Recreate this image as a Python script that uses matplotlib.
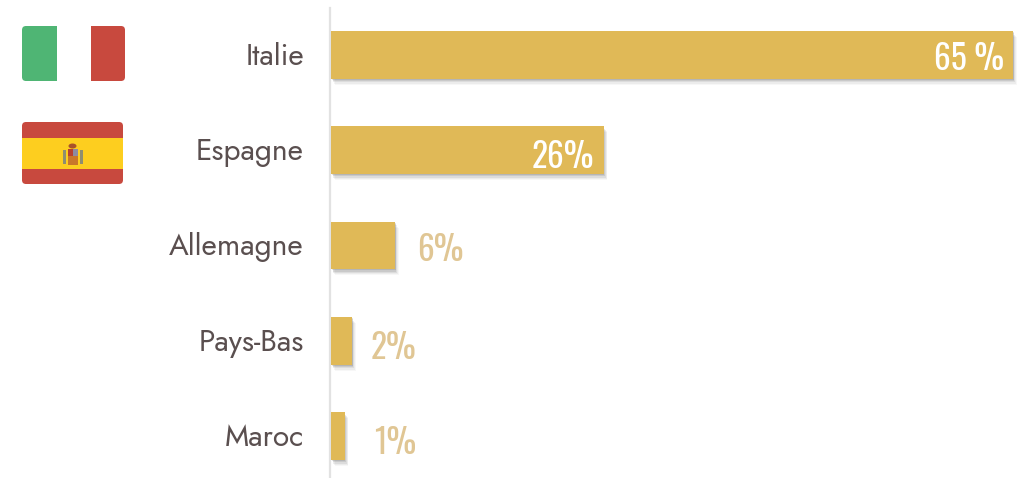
import matplotlib
matplotlib.use("Agg")
import matplotlib.pyplot as plt
import matplotlib.patheffects as pe
from matplotlib.patches import FancyBboxPatch, Rectangle, Ellipse
from matplotlib.transforms import ScaledTranslation

countries = ['Italie', 'Espagne', 'Allemagne', 'Pays-Bas', 'Maroc']
values = [65, 26, 6.1, 2, 1.3]
value_labels = ['65 %', '26%', '6%', '2%', '1%']

GOLD = '#E0B957'
TEXT = '#5A4F4F'
PALE = '#E0C694'
W, H = 1031, 478

fig = plt.figure(figsize=(W / 100, H / 100), dpi=100)
ax = fig.add_axes([331 / W, 0, (W - 331) / W, 470 / H])
#soft shadow from a few faint offset copies
shadow = [pe.withSimplePatchShadow(offset=(o * 0.6, -o), shadow_rgbFace='#444444', alpha=a)
	for o, a in ((4.5, 0.04), (3.6, 0.06), (2.7, 0.09), (1.8, 0.12), (0.9, 0.15))]
shadow.append(pe.Normal())

bars = ax.barh(countries, values, height=0.5, color=GOLD, zorder=3)
for b in bars:
	b.set_path_effects(shadow)

ax.set_xlim(0, (W - 331) / 10.49)
ax.set_ylim(4.44, -0.49)
for s in ['top', 'right', 'bottom']:
	ax.spines[s].set_visible(False)
ax.spines['left'].set_color('#E2E2E2')
ax.spines['left'].set_linewidth(1.6)
ax.spines['left'].set_position(('outward', 1))
ax.set_xticks([])
ax.tick_params(axis='y', length=0, pad=18.5, labelsize=21.5, labelcolor=TEXT)
down = ScaledTranslation(0, -2 / 100, fig.dpi_scale_trans)
for t in ax.get_yticklabels():
	t.set_fontfamily(['Jost', 'Lato'])
	t.set_verticalalignment('center')
	t.set_transform(t.get_transform() + down)

#value labels: first two sit inside the bar, the rest next to it
offsets = [(-9, -3, 'right', 'white'), (-10, -5, 'right', 'white'), (22, -3.5, 'left', PALE), (19, -5, 'left', PALE), (29, -5, 'left', PALE)]
for i, (v, lab) in enumerate(zip(values, value_labels)):
	dx, dy, ha, col = offsets[i]
	ax.annotate(lab, (v, i), xytext=(dx * 0.72, dy), textcoords='offset points', ha=ha, va='center',
		fontsize=24, color=col, family=['Oswald', 'Lato'], zorder=5)

#flags, drawn in pixel coordinates on an overlay
ov = fig.add_axes([0, 0, 1, 1])
ov.set_xlim(0, W)
ov.set_ylim(H, 0)
ov.axis('off')
ov.patch.set_alpha(0)

def flag_clip(x, y, w, h):
	p = FancyBboxPatch((x, y), w, h, boxstyle='round,pad=0,rounding_size=4', fc='none', ec='none', transform=ov.transData)
	ov.add_patch(p)
	return p

clip = flag_clip(22, 26, 103, 55)
for x0, c in [(22, '#4FB574'), (56.5, '#FFFFFF'), (91, '#C8493E')]:
	r = Rectangle((x0, 26), 34.5, 55, fc=c, ec='none')
	ov.add_patch(r)
	r.set_clip_path(clip)

clip2 = flag_clip(22, 122, 101, 62)
for y0, h0, c in [(122, 15.5, '#C8493E'), (137.5, 31, '#FDCE1F'), (168.5, 15.5, '#C8493E')]:
	r = Rectangle((22, y0), 101, h0, fc=c, ec='none')
	ov.add_patch(r)
	r.set_clip_path(clip2)

#coat of arms
ov.add_patch(Ellipse((72.5, 146), 8, 5, fc='#A8532A', ec='none'))
ov.add_patch(Rectangle((68, 149), 10, 8, fc='#B8402F', ec='none'))
ov.add_patch(Rectangle((73, 149), 5, 7, fc='#8E8AA0', ec='none'))
ov.add_patch(Rectangle((68, 156), 10, 9, fc='#C9772A', ec='none'))
ov.add_patch(Rectangle((63, 150), 2.5, 14, fc='#8F8E70', ec='none'))
ov.add_patch(Rectangle((80, 150), 2.5, 14, fc='#8F8E70', ec='none'))

fig.savefig('out.png', dpi=100, facecolor='white')
